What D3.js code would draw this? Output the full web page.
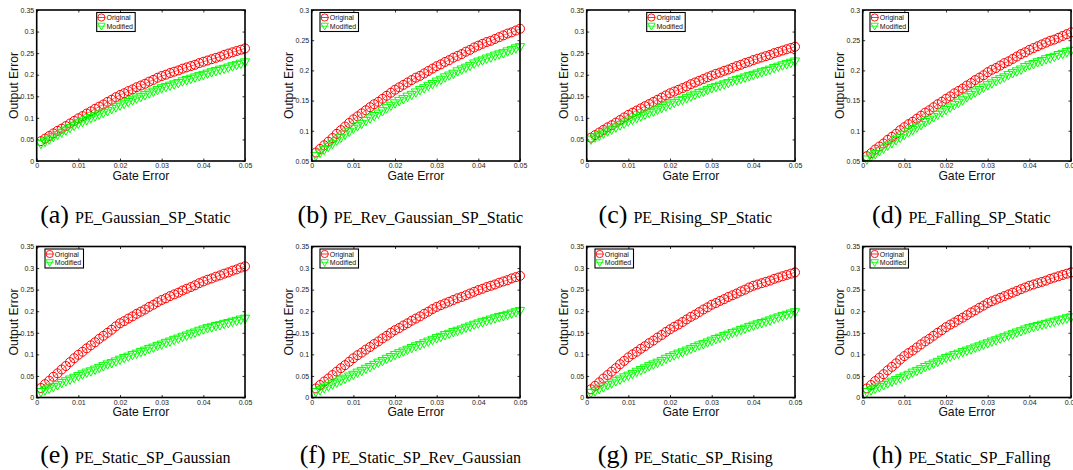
<!DOCTYPE html>
<html>
<head>
<meta charset="utf-8">
<script src="https://cdn.jsdelivr.net/npm/d3@7/dist/d3.min.js"></script>
<style>
  body { margin: 0; background: #fff; }
  svg { display: block; }
</style>
</head>
<body>
<script>
(function(d3) {

  // ---- data ----
  var gateError = [0.001, 0.002, 0.003, 0.004, 0.005, 0.006, 0.007, 0.008, 0.009, 0.010,
                   0.011, 0.012, 0.013, 0.014, 0.015, 0.016, 0.017, 0.018, 0.019, 0.020,
                   0.021, 0.022, 0.023, 0.024, 0.025, 0.026, 0.027, 0.028, 0.029, 0.030,
                   0.031, 0.032, 0.033, 0.034, 0.035, 0.036, 0.037, 0.038, 0.039, 0.040,
                   0.041, 0.042, 0.043, 0.044, 0.045, 0.046, 0.047, 0.048, 0.049, 0.050];

  var captionLetters = ["(a)", "(b)", "(c)", "(d)", "(e)", "(f)", "(g)", "(h)"];
  var captionNames = ["PE_Gaussian_SP_Static", "PE_Rev_Gaussian_SP_Static", "PE_Rising_SP_Static", "PE_Falling_SP_Static",
                      "PE_Static_SP_Gaussian", "PE_Static_SP_Rev_Gaussian", "PE_Static_SP_Rising", "PE_Static_SP_Falling"];
  var seriesNames = ["Original", "Modified"];

  var xTicks = [0, 0.01, 0.02, 0.03, 0.04, 0.05];
  var yTicksWide = [0, 0.05, 0.1, 0.15, 0.2, 0.25, 0.3, 0.35];
  var yTicksNarrow = [0.05, 0.1, 0.15, 0.2, 0.25, 0.3];

  var originalA = [.046,.052,.058,.064,.070,.075,.081,.087,.093,.099,.104,.110,.115,.121,.126,.131,.137,.142,.148,.153,.157,.162,.166,.171,.175,.179,.184,.188,.193,.197,.200,.204,.207,.210,.214,.217,.220,.223,.227,.230,.233,.236,.239,.242,.246,.249,.252,.255,.258,.261];
  var modifiedA = [.039,.044,.049,.055,.060,.065,.070,.076,.081,.086,.090,.094,.099,.103,.107,.111,.115,.120,.124,.128,.132,.136,.140,.144,.148,.152,.156,.160,.164,.168,.171,.174,.177,.180,.184,.187,.190,.193,.196,.199,.202,.205,.208,.211,.213,.216,.219,.222,.225,.228];
  var originalB = [.064,.070,.076,.082,.088,.095,.101,.107,.113,.119,.124,.129,.134,.139,.144,.148,.153,.158,.163,.168,.172,.176,.180,.184,.188,.191,.195,.199,.203,.207,.210,.214,.217,.221,.224,.227,.231,.234,.238,.241,.244,.247,.249,.252,.255,.258,.261,.263,.266,.269];
  var modifiedB = [.058,.063,.068,.073,.078,.083,.088,.093,.098,.103,.107,.111,.116,.120,.124,.128,.132,.137,.141,.145,.149,.152,.156,.159,.163,.167,.170,.174,.177,.181,.184,.188,.191,.194,.198,.201,.204,.207,.211,.214,.216,.219,.221,.224,.226,.228,.231,.233,.236,.238];
  var originalC = [.054,.060,.066,.072,.078,.083,.089,.095,.101,.107,.112,.117,.122,.127,.132,.137,.142,.147,.152,.157,.161,.165,.169,.173,.178,.182,.186,.190,.194,.198,.202,.205,.209,.212,.216,.220,.223,.227,.230,.234,.237,.240,.243,.246,.250,.253,.256,.259,.262,.265];
  var modifiedC = [.049,.054,.058,.063,.068,.072,.077,.082,.086,.091,.095,.099,.103,.107,.111,.114,.118,.122,.126,.130,.134,.138,.141,.145,.149,.153,.157,.160,.164,.168,.171,.174,.177,.180,.184,.187,.190,.193,.196,.199,.202,.205,.208,.211,.215,.218,.221,.224,.227,.230];
  var originalD = [.058,.063,.069,.074,.079,.085,.090,.095,.101,.106,.111,.115,.120,.125,.130,.134,.139,.144,.148,.153,.157,.162,.166,.170,.175,.179,.184,.188,.192,.197,.201,.204,.208,.212,.215,.219,.223,.227,.230,.234,.237,.240,.243,.246,.249,.251,.254,.257,.260,.263];
  var modifiedD = [.052,.057,.061,.066,.070,.075,.079,.084,.088,.093,.097,.101,.105,.109,.114,.118,.122,.126,.130,.134,.138,.142,.146,.150,.155,.159,.163,.167,.171,.175,.178,.182,.185,.188,.192,.195,.198,.201,.205,.208,.210,.213,.215,.218,.220,.222,.225,.227,.230,.232];
  var originalE = [.022,.031,.039,.048,.056,.065,.073,.082,.091,.099,.106,.114,.121,.128,.136,.143,.150,.157,.165,.172,.177,.183,.188,.194,.199,.204,.210,.215,.221,.226,.230,.235,.239,.243,.248,.252,.256,.260,.265,.269,.273,.276,.280,.283,.287,.290,.294,.297,.301,.304];
  var modifiedE = [.012,.016,.020,.024,.028,.033,.037,.041,.045,.049,.053,.057,.060,.064,.068,.072,.076,.079,.083,.087,.091,.094,.098,.101,.105,.108,.112,.115,.119,.122,.126,.129,.133,.136,.140,.143,.147,.150,.154,.157,.160,.162,.165,.167,.170,.172,.175,.177,.180,.182];
  var originalF = [.021,.029,.037,.044,.052,.060,.068,.075,.083,.091,.098,.104,.111,.117,.124,.130,.137,.143,.150,.156,.161,.167,.172,.178,.183,.188,.194,.199,.205,.210,.214,.218,.222,.226,.230,.233,.237,.241,.245,.249,.252,.256,.259,.262,.266,.269,.272,.276,.279,.282];
  var modifiedF = [.012,.016,.021,.025,.030,.034,.039,.043,.048,.052,.057,.061,.066,.070,.075,.080,.084,.089,.093,.098,.102,.106,.110,.114,.118,.121,.125,.129,.133,.137,.140,.144,.147,.151,.154,.157,.161,.164,.168,.171,.174,.177,.180,.183,.186,.188,.191,.194,.197,.200];
  var originalG = [.019,.027,.035,.044,.052,.060,.068,.077,.085,.093,.100,.106,.113,.119,.126,.132,.139,.145,.152,.158,.164,.169,.175,.181,.187,.192,.198,.204,.209,.215,.219,.224,.228,.233,.237,.241,.246,.250,.255,.259,.262,.265,.268,.271,.275,.278,.281,.284,.287,.290];
  var modifiedG = [.010,.014,.019,.023,.028,.032,.037,.041,.046,.050,.054,.059,.063,.067,.072,.076,.080,.084,.089,.093,.097,.101,.104,.108,.112,.116,.120,.123,.127,.131,.135,.138,.142,.145,.149,.152,.156,.159,.163,.166,.169,.172,.175,.178,.182,.185,.188,.191,.194,.197];
  var originalH = [.021,.029,.038,.046,.054,.063,.071,.079,.088,.096,.103,.109,.116,.123,.130,.136,.143,.150,.156,.163,.169,.174,.180,.185,.191,.197,.202,.208,.213,.219,.223,.227,.231,.235,.239,.243,.247,.251,.255,.259,.262,.265,.268,.271,.275,.278,.281,.284,.287,.290];
  var modifiedH = [.012,.016,.020,.024,.028,.032,.036,.040,.044,.048,.052,.057,.061,.065,.070,.074,.078,.082,.087,.091,.094,.098,.101,.105,.108,.111,.115,.118,.122,.125,.129,.132,.136,.139,.143,.146,.150,.153,.157,.160,.163,.165,.168,.170,.173,.175,.178,.180,.183,.185];

  var originals = [originalA, originalB, originalC, originalD, originalE, originalF, originalG, originalH];
  var modifieds = [modifiedA, modifiedB, modifiedC, modifiedD, modifiedE, modifiedF, modifiedG, modifiedH];
  var yTickSets = [yTicksWide, yTicksNarrow, yTicksWide, yTicksNarrow, yTicksWide, yTicksWide, yTicksWide, yTicksWide];

  // ---- layout ----
  var svg = d3.select("body").append("svg")
        .attr("width", 1073)
        .attr("height", 470),
      plotW = 208.3,
      plotH = 151,
      colLeft = [36.7, 311.7, 586.7, 862.7],
      rowTop = [10, 246.5],
      captionBase = [222.5, 462.5],
      legendDx = [60, 8.3, 60, 7.3, 8.3, 8.3, 8.3, 7.3];

  var red = "#ff0000", green = "#00ff00";
  var sans = "'Liberation Sans', Arial, Helvetica, sans-serif";
  var serif = "'Liberation Serif', 'Times New Roman', serif";

  var fmt = function(v) { return String(+v.toFixed(2)); };

  var tri = "M-4.6,-3.8L4.6,-3.8L0,4.6Z";

  captionNames.forEach(function(name, i) {
    var col = i % 4, row = Math.floor(i / 4);
    var left = colLeft[col], top = rowTop[row];
    var yt = yTickSets[i];

    var x = d3.scaleLinear().domain([0, 0.05]).range([0, plotW]);
    var y = d3.scaleLinear().domain([yt[0], yt[yt.length - 1]]).range([plotH, 0]);

    var g = svg.append("g").attr("transform", "translate(" + left + "," + top + ")");

    // axes: labels on left/bottom, inward ticks on all four sides
    var ax = [
      {axis: d3.axisBottom(x).tickValues(xTicks).tickFormat(fmt), t: "translate(0," + plotH + ")"},
      {axis: d3.axisLeft(y).tickValues(yt).tickFormat(fmt), t: ""},
      {axis: d3.axisTop(x).tickValues(xTicks).tickFormat(""), t: ""},
      {axis: d3.axisRight(y).tickValues(yt).tickFormat(""), t: "translate(" + plotW + ",0)"}
    ];
    ax.forEach(function(a) {
      var ag = g.append("g")
          .attr("transform", a.t)
          .call(a.axis.tickSizeInner(-2.5).tickSizeOuter(0).tickPadding(2.5));
      ag.select(".domain").remove();
      ag.selectAll("line").attr("stroke", "#000").attr("stroke-width", 0.8);
      ag.selectAll("text")
          .attr("fill", "#222")
          .style("font-family", sans)
          .style("font-size", "7px");
    });

    var line = d3.line()
        .x(function(d, j) { return x(gateError[j]); })
        .y(function(d) { return y(d); });

    [originals[i], modifieds[i]].forEach(function(vals, s) {
      var c = s === 0 ? red : green;
      var sg = g.append("g");
      sg.append("path")
          .datum(vals)
          .attr("fill", "none")
          .attr("stroke", c)
          .attr("stroke-width", 0.6)
          .attr("d", line);
      var m = sg.selectAll(".m")
        .data(vals)
        .enter();
      if (s === 0) {
        m.append("circle")
            .attr("cx", function(d, j) { return x(gateError[j]); })
            .attr("cy", function(d) { return y(d); })
            .attr("r", 4.5)
            .attr("fill", "none")
            .attr("stroke", c)
            .attr("stroke-width", 1);
      } else {
        m.append("path")
            .attr("d", tri)
            .attr("transform", function(d, j) { return "translate(" + x(gateError[j]) + "," + y(d) + ")"; })
            .attr("fill", "none")
            .attr("stroke", c)
            .attr("stroke-width", 1);
      }
    });

    // box
    g.append("rect")
        .attr("width", plotW)
        .attr("height", plotH)
        .attr("fill", "none")
        .attr("stroke", "#000")
        .attr("stroke-width", 1.6);

    // legend
    var lg = g.append("g").attr("transform", "translate(" + legendDx[i] + ",2.5)");
    lg.append("rect")
        .attr("width", 38.5)
        .attr("height", 19)
        .attr("fill", "#fff")
        .attr("stroke", "#000")
        .attr("stroke-width", 1.1);
    seriesNames.forEach(function(nm, s) {
      var cy = 5 + s * 8.7;
      var c = s === 0 ? red : green;
      lg.append("line")
          .attr("x1", 0.8).attr("x2", 8.6)
          .attr("y1", cy).attr("y2", cy)
          .attr("stroke", c).attr("stroke-width", 0.8);
      if (s === 0) {
        lg.append("circle").attr("cx", 4.7).attr("cy", cy).attr("r", 3.6)
            .attr("fill", "none").attr("stroke", c).attr("stroke-width", 0.9);
      } else {
        lg.append("path").attr("d", "M-3.7,-3L3.7,-3L0,3.8Z")
            .attr("transform", "translate(4.7," + cy + ")")
            .attr("fill", "none").attr("stroke", c).attr("stroke-width", 0.9);
      }
      lg.append("text")
          .attr("x", 9.8)
          .attr("y", cy + 2.5)
          .attr("fill", "#111")
          .style("font-family", sans)
          .style("font-size", "7px")
          .text(nm);
    });

    // axis titles
    g.append("text")
        .attr("transform", "translate(-18.8," + (plotH / 2) + ") rotate(-90)")
        .attr("text-anchor", "middle")
        .attr("fill", "#111")
        .style("font-family", sans)
        .style("font-size", "12.2px")
        .text("Output Error");
    g.append("text")
        .attr("x", plotW / 2)
        .attr("y", plotH + 18.5)
        .attr("text-anchor", "middle")
        .attr("fill", "#111")
        .style("font-family", sans)
        .style("font-size", "12.2px")
        .text("Gate Error");

    // caption
    var cap = svg.append("text")
        .attr("x", left + plotW / 2 - 5.5)
        .attr("y", captionBase[row])
        .attr("text-anchor", "middle")
        .attr("fill", "#000")
        .style("font-family", serif);
    cap.append("tspan").style("font-size", "26px").text(captionLetters[i]);
    cap.append("tspan").attr("dx", 6).style("font-size", "16px").text(name);
  });

}(d3));
</script>
</body>
</html>
